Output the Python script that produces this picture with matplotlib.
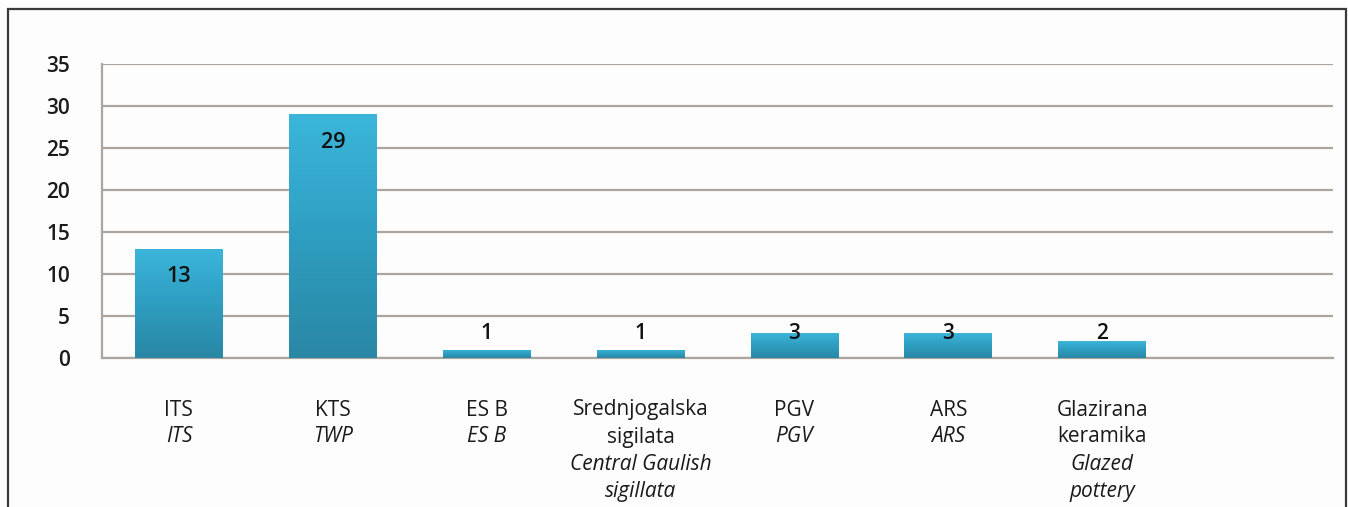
import numpy as np
import matplotlib.pyplot as plt
from matplotlib.patches import Rectangle
from matplotlib.colors import LinearSegmentedColormap

plt.rcParams['font.family'] = ['Open Sans', 'DejaVu Sans']

# Podaci
labels_hr = ['ITS', 'KTS', 'ES B', 'Srednjogalska\nsigilata', 'PGV', 'ARS', 'Glazirana\nkeramika']
labels_en = ['ITS', 'TWP', 'ES B', 'Central Gaulish\nsigillata', 'PGV', 'ARS', 'Glazed\npottery']
counts = [13, 29, 1, 1, 3, 3, 2]
n_slots = 8  # zadnje mjesto ostaje prazno
yticks = [0, 5, 10, 15, 20, 25, 30, 35]

fig = plt.figure(figsize=(13.48, 5.07), dpi=100)
fig.patch.set_facecolor('#fdfdfd')

# okvir oko cijele slike
fig.add_artist(Rectangle((7.5 / 1348, -0.01), (1346 - 7.5) / 1348, 1 - 9 / 507 + 0.01,
                         transform=fig.transFigure, fill=False,
                         edgecolor='#3a3a3a', linewidth=1.6))

ax = fig.add_axes([102 / 1348, 1 - 358 / 507, (1333 - 102) / 1348, (358 - 64) / 507])
ax.set_facecolor('none')

x = np.arange(len(counts))
bars = ax.bar(x, counts, width=0.57, color='#2fa3c6', zorder=3)

# gradijent na stupcima (svjetlije gore, tamnije dolje)
cmap = LinearSegmentedColormap.from_list('grad', ['#2a87a5', '#2e9ec1', '#3bb6da'])
grad = np.linspace(0, 1, 256).reshape(-1, 1)
for b in bars:
    x0, y0 = b.get_x(), b.get_y()
    w, h = b.get_width(), b.get_height()
    im = ax.imshow(grad, cmap=cmap, aspect='auto', origin='lower',
                   extent=[x0, x0 + w, y0, y0 + h], zorder=3.5)
    im.set_clip_path(b)

ax.set_xlim(-0.5, n_slots - 0.5)
ax.set_ylim(0, 35)
ax.set_yticks(yticks)
ax.tick_params(axis='y', length=0, pad=23, labelsize=15, labelcolor='#1a1a1a')
for t in ax.get_yticklabels():
    t.set_fontweight('semibold')
ax.set_xticks([])

ax.grid(axis='y', color='#aca59e', linewidth=1.6, zorder=0)
for s in ['top', 'right']:
    ax.spines[s].set_visible(False)
for s in ['left', 'bottom']:
    ax.spines[s].set_color('#aca59e')
    ax.spines[s].set_linewidth(1.6)

# vrijednosti: velike unutar stupca, male iznad osnovice
small_label_y = 2.9
for xi, v in zip(x, counts):
    if v >= 10:
        ax.text(xi, v - 3.3, str(v), ha='center', va='center', fontsize=15.5,
                fontweight='semibold', color='#111111', zorder=5)
    else:
        ax.text(xi, small_label_y, str(v), ha='center', va='center', fontsize=15,
                fontweight='semibold', color='#111111', zorder=5)

# nazivi kategorija (hrvatski normalno, engleski kurzivom)
trans = ax.get_xaxis_transform()
line_h = 27 / 294
for xi, hr, en in zip(x, labels_hr, labels_en):
    y = -52 / 294
    for ln in hr.split('\n'):
        ax.text(xi, y, ln, transform=trans, ha='center', va='center',
                fontsize=15, color='#1a1a1a', clip_on=False)
        y -= line_h
    for ln in en.split('\n'):
        ax.text(xi, y, ln, transform=trans, ha='center', va='center',
                fontsize=15, style='italic', color='#1a1a1a', clip_on=False)
        y -= line_h

fig.savefig('out.png', dpi=100, facecolor=fig.get_facecolor())
